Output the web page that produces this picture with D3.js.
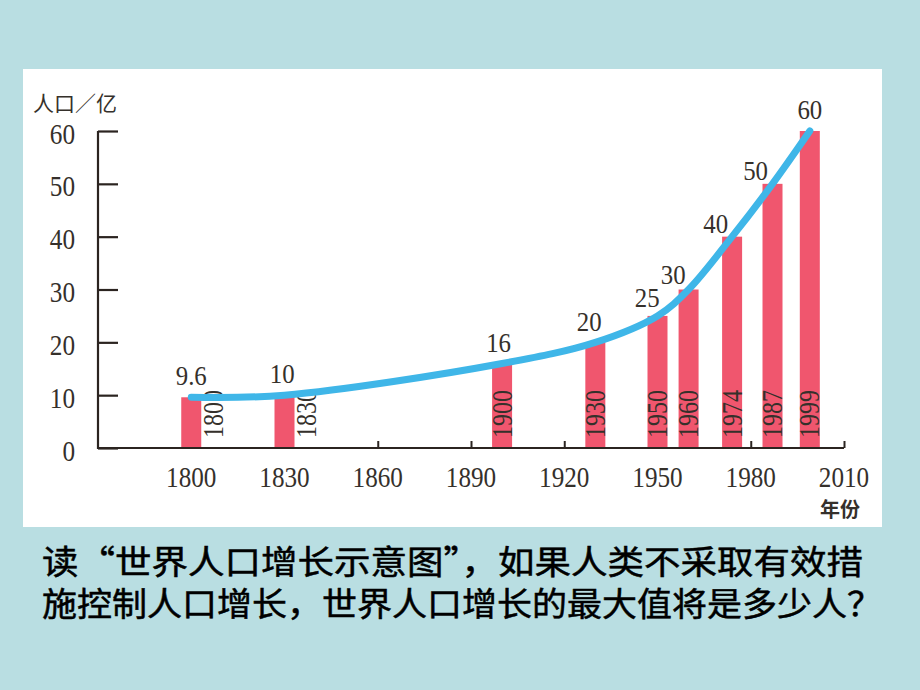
<!DOCTYPE html>
<html>
<head>
<meta charset="utf-8">
<script src="https://cdn.jsdelivr.net/npm/d3@7"></script>
<style>
  html, body { margin: 0; padding: 0; background: #b9dee2; }
  svg { display: block; }
</style>
</head>
<body>
<svg id="chart" width="920" height="690"></svg>
<script>
// ---- data ----
const years = [1800, 1830, 1900, 1930, 1950, 1960, 1974, 1987, 1999];
const population = [9.6, 10, 16, 20, 25, 30, 40, 50, 60];
const valueLabels = ["9.6", "10", "16", "20", "25", "30", "40", "50", "60"];
const yTicks = [0, 10, 20, 30, 40, 50, 60];
const xTicks = [1800, 1830, 1860, 1890, 1920, 1950, 1980, 2010];
const yTitle = "人口／亿";
const xTitle = "年份";
const question = [
  "读“世界人口增长示意图”，如果人类不采取有效措",
  "施控制人口增长，世界人口增长的最大值将是多少人？"
];

// ---- layout ----
const svg = d3.select("#chart");
const numFont = "'Liberation Serif', 'DejaVu Serif', serif";
const cjkFont = "'Noto Sans CJK SC', sans-serif";
const textColor = "#35302b";
const axisColor = "#2b2420";

svg.append("rect").attr("x", 0).attr("y", 0).attr("width", 920).attr("height", 690).attr("fill", "#b9dee2");
svg.append("rect").attr("x", 23).attr("y", 69).attr("width", 859).attr("height", 458).attr("fill", "#ffffff");

const x = d3.scaleLinear().domain([1770, 2010]).range([98, 844]);
const y = d3.scaleLinear().domain([0, 60]).range([448, 131]);
const barW = 20;

const data = years.map((yr, i) => ({ year: yr, value: population[i], label: valueLabels[i] }));

// x axis ticks (pointing up), drawn before bars
const xAxis = d3.axisBottom(x).tickValues(xTicks).tickSize(-7).tickSizeOuter(0).tickFormat("");
const gx = svg.append("g").attr("transform", `translate(0,${y(0)})`).call(xAxis);
gx.select(".domain").remove();
gx.selectAll(".tick line").attr("stroke", axisColor).attr("stroke-width", 2);

// y axis ticks (pointing right)
const yAxis = d3.axisLeft(y).tickValues(yTicks).tickSize(-20).tickSizeOuter(0).tickFormat("");
const gy = svg.append("g").attr("transform", `translate(${x(1770)},0)`).call(yAxis);
gy.select(".domain").remove();
gy.selectAll(".tick line").attr("stroke", axisColor).attr("stroke-width", 2.2);

// bars
svg.append("g").selectAll("rect").data(data).join("rect")
  .attr("x", d => x(d.year) - barW / 2)
  .attr("y", d => y(d.value))
  .attr("width", barW)
  .attr("height", d => y(0) - y(d.value))
  .attr("fill", "#f0566e");

// axis lines
svg.append("path")
  .attr("d", `M${x(1770)},${y(60)} L${x(1770)},${y(0)} L${x(2010)},${y(0)}`)
  .attr("fill", "none").attr("stroke", axisColor).attr("stroke-width", 2.2);

// y tick labels
svg.append("g").selectAll("text").data(yTicks).join("text")
  .attr("transform", d => `translate(75,${y(d) + 12.5}) scale(0.87,1)`)
  .attr("text-anchor", "end")
  .attr("font-family", numFont).attr("font-size", 29)
  .attr("fill", textColor)
  .text(d => d);

// x tick labels
svg.append("g").selectAll("text").data(xTicks).join("text")
  .attr("transform", d => `translate(${x(d)},487) scale(0.84,1)`)
  .attr("text-anchor", "middle")
  .attr("font-family", numFont).attr("font-size", 30)
  .attr("fill", textColor)
  .text(d => d);

// rotated year labels inside / beside bars
svg.append("g").selectAll("text").data(data).join("text")
  .attr("transform", d => {
    const cx = d.value < 12 ? x(d.year) + 22 : x(d.year);
    return `translate(${cx + 9.5},${y(0) - 10}) rotate(-90) scale(0.83,1)`;
  })
  .attr("text-anchor", "start")
  .attr("font-family", numFont).attr("font-size", 29)
  .attr("fill", textColor)
  .text(d => d.year);

// trend line
const line = d3.line().x(d => x(d.year)).y(d => y(d.value)).curve(d3.curveCatmullRom.alpha(0.5));
svg.append("path").datum(data)
  .attr("d", line)
  .attr("fill", "none")
  .attr("stroke", "#3fb6e8")
  .attr("stroke-width", 7)
  .attr("stroke-linecap", "round");

// value labels, offset perpendicular to the line direction (above-left)
const pts = data.map(d => [x(d.year), y(d.value)]);
const labelDist = 21;
svg.append("g").selectAll("text").data(data).join("text")
  .attr("transform", (d, i) => {
    let nx = 0, ny = -1;
    if (i > 0 && i < pts.length - 1) {
      const tx = pts[i + 1][0] - pts[i - 1][0];
      const ty = pts[i + 1][1] - pts[i - 1][1];
      const len = Math.hypot(tx, ty);
      nx = ty / len; ny = -tx / len;
    }
    const cx = pts[i][0] + nx * labelDist;
    const cy = pts[i][1] + ny * labelDist;
    return `translate(${cx},${cy + 9}) scale(0.92,1)`;
  })
  .attr("text-anchor", "middle")
  .attr("font-family", numFont).attr("font-size", 27)
  .attr("fill", textColor)
  .text(d => d.label);

// axis titles
svg.append("text").attr("x", 33).attr("y", 111)
  .attr("font-family", cjkFont).attr("font-size", 21)
  .attr("fill", textColor).text(yTitle);
svg.append("text").attr("x", 820).attr("y", 517)
  .attr("font-family", cjkFont).attr("font-size", 20).attr("font-weight", "bold")
  .attr("fill", textColor).text(xTitle);

// question text
const qLens = [821, 840];
const qBase = [574, 616];
svg.append("g").selectAll("text").data(question).join("text")
  .attr("x", 42)
  .attr("y", (d, i) => qBase[i])
  .attr("textLength", (d, i) => qLens[i])
  .attr("lengthAdjust", "spacingAndGlyphs")
  .attr("font-family", cjkFont).attr("font-size", 33)
  .attr("fill", "#000")
  .attr("stroke", "#000").attr("stroke-width", 0.5)
  .text(d => d);
</script>
</body>
</html>
